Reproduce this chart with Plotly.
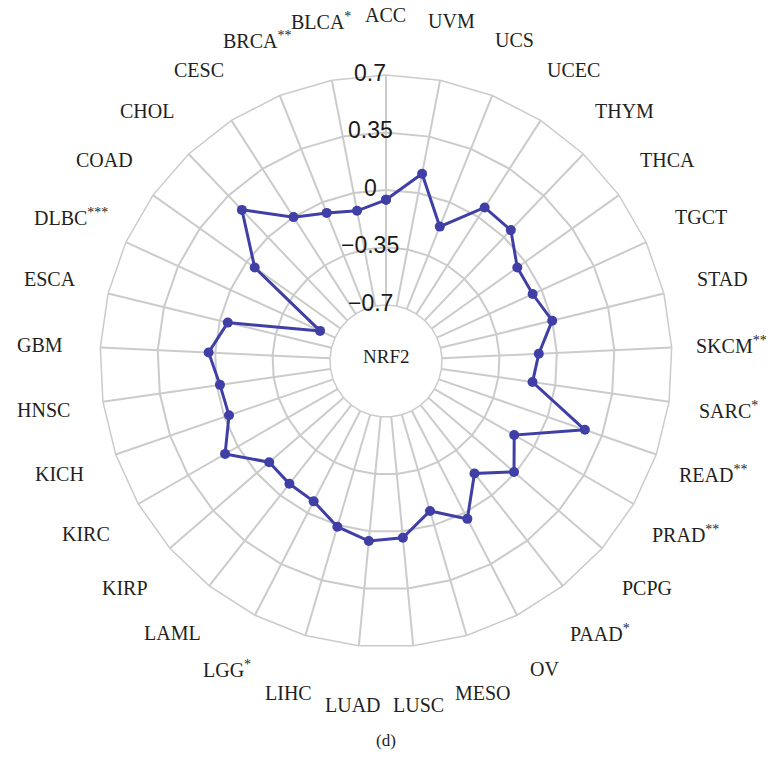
import math
import plotly.graph_objects as go

# ---- data ----
categories = ["ACC", "UVM", "UCS", "UCEC", "THYM", "THCA", "TGCT", "STAD", "SKCM", "SARC",
              "READ", "PRAD", "PCPG", "PAAD", "OV", "MESO", "LUSC", "LUAD", "LIHC", "LGG",
              "LAML", "KIRP", "KIRC", "KICH", "HNSC", "GBM", "ESCA", "DLBC", "COAD", "CHOL",
              "CESC", "BRCA", "BLCA"]
significance = ["", "", "", "", "", "", "", "", "**", "*",
                "**", "**", "", "*", "", "", "", "", "", "*",
                "", "", "", "", "", "", "", "***", "", "",
                "", "**", "*"]
values = [-0.06, 0.12, -0.16, 0.07, 0.06, -0.06, -0.06, 0.00, -0.11, -0.14,
          0.24, -0.14, -0.01, -0.17, 0.04, -0.09, 0.04, 0.06, 0.01, -0.08,
          -0.09, -0.10, 0.09, -0.03, -0.02, 0.04, -0.05, -0.60, -0.06, 0.23,
          0.00, -0.07, -0.11]
radial_ticks = [-0.7, -0.35, 0, 0.35, 0.7]
radial_tick_labels = ["\u22120.7", "\u22120.35", "0", "0.35", "0.7"]
center_label = "NRF2"
panel_label = "(d)"

# ---- geometry ----
W, H = 770, 757
CX, CY, R_OUT = 386, 361, 286
HOLE = 0.196
R_MIN, R_MAX = -0.7, 0.7
LABEL_RPX = 346  # pixel radius of category labels

LINE_COLOR = "#3F3FA6"
GRID_COLOR = "#CBCBCB"
TEXT_COLOR = "#231F20"

labels = [c + (f"<sup>{s}</sup>" if s else "") for c, s in zip(categories, significance)]

fig = go.Figure()
fig.add_trace(go.Scatterpolar(
    r=values + values[:1], theta=categories + categories[:1],
    mode="lines+markers",
    line=dict(color=LINE_COLOR, width=3),
    marker=dict(color=LINE_COLOR, size=10),
    cliponaxis=True,
    showlegend=False, hoverinfo="skip",
))

fig.update_layout(
    width=W, height=H,
    margin=dict(l=0, r=0, t=0, b=0),
    paper_bgcolor="white", plot_bgcolor="white",
    polar=dict(
        domain=dict(x=[(CX - R_OUT) / W, (CX + R_OUT) / W],
                    y=[(H - CY - R_OUT) / H, (H - CY + R_OUT) / H]),
        hole=HOLE,
        gridshape="linear",
        bgcolor="white",
        radialaxis=dict(range=[R_MIN, R_MAX], tickvals=radial_ticks, showticklabels=False,
                        ticks="", showline=False, gridcolor=GRID_COLOR, gridwidth=1.5, angle=90),
        angularaxis=dict(type="category", categoryarray=categories, rotation=90,
                         direction="clockwise", showticklabels=False, ticks="",
                         gridcolor=GRID_COLOR, gridwidth=1.5, linecolor=GRID_COLOR, linewidth=1.5),
    ),
)

# category labels around the chart (clockwise from top)
n = len(categories)
for i, lab in enumerate(labels):
    ang = 2 * math.pi * i / n
    px = CX + LABEL_RPX * math.sin(ang)
    py = CY - LABEL_RPX * math.cos(ang)
    fig.add_annotation(x=px / W, y=1 - py / H, xref="paper", yref="paper", text=lab,
                       showarrow=False, xanchor="center", yanchor="middle",
                       font=dict(family="Liberation Serif", size=20, color=TEXT_COLOR))

# radial tick labels
r_in = R_OUT * HOLE
for v, t in zip(radial_ticks, radial_tick_labels):
    rp = r_in + (v - R_MIN) / (R_MAX - R_MIN) * (R_OUT - r_in)
    fig.add_annotation(x=(CX - 16) / W, y=1 - (CY - rp - 2) / H, xref="paper", yref="paper",
                       text=t, showarrow=False, xanchor="center", yanchor="middle",
                       font=dict(family="Liberation Sans", size=23, color="#1A1A1A"))

fig.add_annotation(x=CX / W, y=1 - (CY - 4) / H, xref="paper", yref="paper", text=center_label,
                   showarrow=False, xanchor="center", yanchor="middle",
                   font=dict(family="Liberation Serif", size=19, color=TEXT_COLOR))
fig.add_annotation(x=CX / W, y=1 - 740 / H, xref="paper", yref="paper", text=panel_label,
                   showarrow=False, xanchor="center", yanchor="middle",
                   font=dict(family="Liberation Serif", size=17, color=TEXT_COLOR))

fig.write_html("out.html",
               config={"displayModeBar": False},
               post_script="document.body.style.margin='0px';document.body.style.overflow='hidden';")
